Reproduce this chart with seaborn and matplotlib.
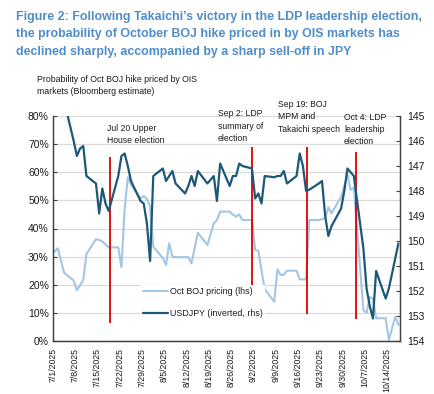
import pandas as pd
import numpy as np
import matplotlib
matplotlib.use('Agg')
import matplotlib.pyplot as plt
from matplotlib.ticker import FixedLocator, FuncFormatter
from matplotlib.lines import Line2D
import seaborn as sns

sns.set_style('white')
plt.rcParams['font.family'] = ['Liberation Sans Narrow', 'Liberation Sans', 'DejaVu Sans']

# business days, 1 Jul - 17 Oct 2025
dates = pd.bdate_range('2025-07-01', '2025-10-17')

# probability of Oct BOJ hike priced by OIS (%), lhs
boj_prob = [31.8, 33.0, 28.5, 24.3, 21.5, 18.1, 19.8, 21.7, 30.9, 36.2, 35.9, 35.4,
            34.3, 33.3, 33.3, 26.2, 47.0, 58.2, 55.5, 50.7, 51.6, 50.5, 47.8,
            33.5, 29.5, 27.0, 34.7, 30.0, 29.8, 29.8, 29.8, 27.6, 33.0, 38.5,
            34.1, 38.0, 41.8, 43.0, 46.0, 46.0, 45.0, 44.2, 45.0, 43.0,
            43.0, 32.4, 32.1, 25.0, 18.4, 14.0, 25.5, 23.5, 23.5, 25.0, 25.0,
            21.9, 21.9, 21.9, 43.0, 43.0, 43.3, 43.6, 47.5, 45.4, 51.3, 55.0,
            59.3, 53.7, 54.6, 11.0, 10.0, 15.7, 15.0, 8.1, 8.1, 0.4, 4.5, 8.6, 5.7]

# USDJPY, rhs inverted
usdjpy = [143.5, 143.6, 144.8, 144.4, 146.0, 146.6, 146.3, 146.2, 147.4, 147.7, 148.9, 147.9,
          148.5, 148.8, 147.4, 146.6, 146.5, 147.0, 147.6, 148.4, 148.5, 149.3, 150.8,
          147.4, 147.1, 147.6, 147.4, 147.2, 147.7, 148.1, 147.8, 147.4, 147.8, 147.2,
          147.7, 147.55, 147.4, 148.4, 146.9, 147.8, 147.4, 147.4, 146.9, 147.0,
          147.1, 148.3, 148.1, 148.5, 147.4, 147.45, 147.4, 147.4, 147.2, 147.7, 147.4,
          146.5, 147.0, 148.0, 147.95, 147.7, 147.6, 149.0, 149.8, 149.4, 148.7, 148.0,
          147.1, 147.25, 147.4, 150.3, 151.9, 152.6, 153.1, 151.2, 152.3, 151.9, 151.3,
          150.7, 150.1]

# event markers (red lines)
event_dates = ['2025-07-18 18:00', '2025-09-01 16:00', '2025-09-18 22:00', '2025-10-04 06:00']
event_top = [65.5, 69.1, 69.1, 67.3]
event_bottom = [6.3, 9.6, 9.6, 7.7]
event_labels = [['Jul 20 Upper', 'House election'],
                ['Sep 2: LDP', 'summary of', 'election'],
                ['Sep 19: BOJ', 'MPM and', 'Takaichi speech'],
                ['Oct 4: LDP', 'leadership', 'election']]

legend_labels = ['Oct BOJ pricing (lhs)', 'USDJPY (inverted, rhs)']

light = '#A2C6E8'
dark = '#1E5878'
red = '#DD0000'
txt = '#1A1A1A'

df = pd.DataFrame({'date': dates + pd.Timedelta(hours=12),
                   'boj': boj_prob, 'usdjpy': usdjpy})

W, H = 434, 394
def fx(x):
    return x / W
def fy(y):
    return 1 - y / H

fig = plt.figure(figsize=(W / 100, H / 100), dpi=100)
ax = fig.add_axes([fx(53), fy(341), (400 - 53) / W, (341 - 116) / H])

sns.lineplot(data=df, x='date', y='boj', ax=ax, color=light, linewidth=1.5, legend=False)
ax.vlines(pd.to_datetime(event_dates), event_bottom, event_top, color=red, linewidth=1.3, zorder=3)

ax.set_xlim(pd.Timestamp('2025-07-01'), pd.Timestamp('2025-10-18'))
ax.set_ylim(0, 80)
ax.set_yticks(range(0, 81, 10))
ax.yaxis.set_major_formatter(FuncFormatter(lambda v, p: f'{v:.0f}%'))
ax.yaxis.grid(True, color='#D9D9D9', linewidth=0.9)
ax.xaxis.grid(False)
ax.set_xlabel('')
ax.set_ylabel('')

week_ticks = pd.date_range('2025-07-01', '2025-10-14', freq='7D')
ax.xaxis.set_major_locator(FixedLocator(matplotlib.dates.date2num(week_ticks)))
ax.xaxis.set_major_formatter(FuncFormatter(
    lambda v, p: (lambda d: f'{d.month}/{d.day}/{d.year}')(matplotlib.dates.num2date(v))))
ax.tick_params(axis='x', direction='out', length=3, width=0.8, color='#404040',
               labelsize=6.3, labelrotation=90, pad=2, labelcolor=txt)
ax.tick_params(axis='y', direction='in', length=3, width=0.8, color='#404040',
               labelsize=7.5, pad=3, labelcolor=txt)

ax2 = ax.twinx()
sns.lineplot(data=df, x='date', y='usdjpy', ax=ax2, color=dark, linewidth=1.6, legend=False)
ax2.set_ylim(154, 145)
ax2.set_yticks(range(145, 155))
ax2.set_ylabel('')
ax2.tick_params(axis='y', direction='in', length=3, width=0.8, color='#404040',
                labelsize=7.5, pad=5, labelcolor=txt)

for a in (ax, ax2):
    a.spines['top'].set_visible(False)
    for s in ('left', 'right', 'bottom'):
        a.spines[s].set_color('#404040')
        a.spines[s].set_linewidth(0.9)

handles = [Line2D([], [], color=light, linewidth=1.5), Line2D([], [], color=dark, linewidth=1.6)]
leg = ax2.legend(handles, legend_labels, loc='upper left', bbox_to_anchor=(fx(141), fy(285)),
                 bbox_transform=fig.transFigure, frameon=True, fancybox=False,
                 edgecolor='none', facecolor='white', framealpha=1, fontsize=6.4,
                 handlelength=2.8, handletextpad=0.2, labelspacing=1.45,
                 borderpad=0.25, borderaxespad=0)
for t in leg.get_texts():
    t.set_color(txt)
leg.set_zorder(10)

# event annotations
label_pos = [(107, 128.5), (218, 114), (277.5, 104.5), (344, 117)]
for (x0, y0), lines in zip(label_pos, event_labels):
    for i, line in enumerate(lines):
        fig.text(fx(x0), fy(y0 + 12.3 * i), line, fontsize=6.2, color=txt, va='center', ha='left')

# axis caption
fig.text(fx(37), fy(80), 'Probability of Oct BOJ hike priced by OIS', fontsize=6.3,
         color=txt, va='center', ha='left')
fig.text(fx(37), fy(91.5), 'markets (Bloomberg estimate)', fontsize=6.3,
         color=txt, va='center', ha='left')

# title
title_lines = ["Figure 2: Following Takaichi\u2019s victory in the LDP leadership election,",
               "the probability of October BOJ hike priced in by OIS markets has",
               "declined sharply, accompanied by a sharp sell-off in JPY"]
for i, line in enumerate(title_lines):
    fig.text(fx(16), fy([16.7, 33.8, 51.5][i]), line, fontsize=8.9, fontweight='bold',
             color='#4F8DC9', va='center', ha='left', family=['Liberation Sans', 'DejaVu Sans'])

fig.savefig('out.png', dpi=100)
